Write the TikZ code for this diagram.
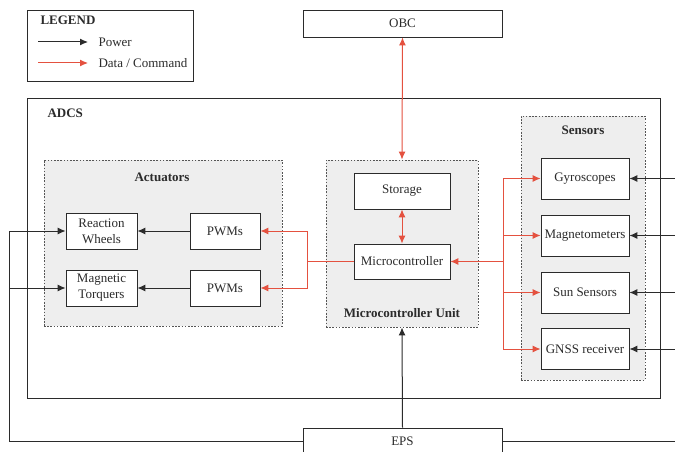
\documentclass[tikz,border=0pt]{standalone}
\usepackage{fontspec}
\setmainfont{Liberation Serif}
\usepackage{xcolor}
\usetikzlibrary{positioning,arrows.meta}
\definecolor{ink}{HTML}{2B2B2B}
\definecolor{dRed}{HTML}{E4513F}
\definecolor{gFill}{HTML}{EEEEEE}
\definecolor{gEdge}{HTML}{555555}
\tikzset{
  blk/.style={rectangle, draw=ink, fill=white, line width=0.9pt, inner sep=1pt, align=center, text=ink, font=\fontsize{13}{16}\selectfont},
  grp/.style={rectangle, draw=gEdge, fill=gFill, line width=0.9pt, dash pattern=on 1.6pt off 1.6pt},
  ttl/.style={font=\fontsize{13}{16}\selectfont\bfseries, text=ink},
  lbl/.style={font=\fontsize{13}{16}\selectfont, text=ink},
}
\begin{document}
\begin{tikzpicture}[x=1pt, y=-1pt,
  pwr/.style={ink, line width=1pt, -{Latex[length=8pt,width=7pt]}},
  dat/.style={dRed, line width=1pt, -{Latex[length=8pt,width=7pt]}},
  dat2/.style={dRed, line width=1pt, {Latex[length=8pt,width=7pt]}-{Latex[length=8pt,width=7pt]}}]
\useasboundingbox (0,0) rectangle (675,452);
\node[blk, minimum width=166pt, minimum height=71pt] (legend) at (110,45.5) {};
\node[ttl, anchor=west] (legtitle) at (37,20) {LEGEND};
\coordinate (pa) at (38,42); \coordinate (pb) at (88,42);
\coordinate (da) at (38,63); \coordinate (db) at (88,63);
\draw[pwr] (pa) -- (pb);
\draw[dat] (da) -- (db);
\node[lbl, anchor=west] (legpwr) at (95,42) {Power};
\node[lbl, anchor=west] (legdat) at (95,63) {Data / Command};
\node[blk, minimum width=199pt, minimum height=27pt] (obc) at (402.5,23.5) {OBC};
\node[blk, minimum width=633pt, minimum height=300pt] (adcs) at (343.5,248) {};
\node[ttl, anchor=west] (adcstitle) at (44,113) {ADCS};
\node[grp, minimum width=238pt, minimum height=166pt] (act) at (163,243) {};
\node[grp, minimum width=152pt, minimum height=167pt] (mcu) at (402,243.5) {};
\node[grp, minimum width=124pt, minimum height=264pt] (sens) at (583,248) {};
\node[ttl] (acttitle) at (162,177) {Actuators};
\node[ttl] (mcutitle) at (402,313) {Microcontroller Unit};
\node[ttl] (senstitle) at (583,130) {Sensors};
\node[blk, minimum width=71pt, minimum height=36pt] (rw) at (101.5,231) {Reaction\\Wheels};
\node[blk, minimum width=71pt, minimum height=36pt] (mt) at (101.5,288) {Magnetic\\Torquers};
\node[blk, minimum width=70pt, minimum height=36pt] (pwma) at (225,231) {PWMs};
\node[blk, minimum width=70pt, minimum height=36pt] (pwmb) at (225,288) {PWMs};
\node[blk, minimum width=96pt, minimum height=36pt] (store) at (402,191) {Storage};
\node[blk, minimum width=96pt, minimum height=35pt] (micro) at (402,261.5) {Microcontroller};
\foreach \n/\y/\t in {gyro/178.5/Gyroscopes, magn/235.5/Magnetometers, sun/292.5/Sun Sensors, gnss/349/GNSS receiver}
  \node[blk, minimum width=88pt, minimum height=41pt] (\n) at (585,\y) {\t};
\node[blk, minimum width=199pt, minimum height=26pt] (eps) at (402.5,441) {EPS};
\draw[dat2] (obc.south) -- (mcu.north);
\draw[dat2] (store.south) -- (micro.north);
\coordinate (lsplit) at (307,261.5);
\draw[dRed, line width=1pt] (micro.west) -- (lsplit);
\draw[dat] (lsplit) |- (pwma.east);
\draw[dat] (lsplit) |- (pwmb.east);
\coordinate (rsplit) at (503,261.5);
\draw[dat] (rsplit) -- (micro.east);
\foreach \n in {gyro, magn, sun, gnss}
  \draw[dat] (rsplit) |- (\n.west);
\draw[pwr] (pwma.west) -- (rw.east);
\draw[pwr] (pwmb.west) -- (mt.east);
\draw[pwr] (eps.north) -- (mcu.south);
\coordinate (lbus) at (9,231);
\draw[pwr] (eps.west) -| (lbus) -- (rw.west);
\draw[pwr] (lbus |- mt.west) -- (mt.west);
\coordinate (rbus) at (675,178.5);
\draw[ink, line width=1pt] (eps.east) -| (rbus);
\foreach \n in {gyro, magn, sun, gnss}
  \draw[pwr] (rbus |- \n.east) -- (\n.east);
\end{tikzpicture}
\end{document}
